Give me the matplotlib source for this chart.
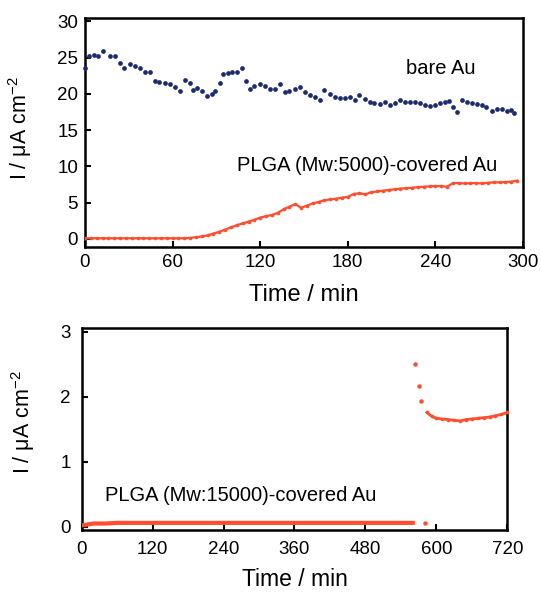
import numpy as np
import matplotlib
matplotlib.use("Agg")
import matplotlib.pyplot as plt

plt.rcParams['font.family'] = ['Liberation Sans', 'DejaVu Sans']
plt.rcParams['mathtext.fontset'] = 'custom'
plt.rcParams['mathtext.rm'] = 'Liberation Sans'
plt.rcParams['mathtext.it'] = 'Liberation Sans:italic'

# ---- top panel: bare Au vs PLGA(Mw 5000)-covered Au ----
bare_t = [0, 3, 6, 9, 12, 17, 20.5, 24, 27, 31, 34, 38, 41, 44.5, 48, 51, 55, 58,
          61.5, 65, 68.5, 72, 74, 77, 80, 83.5, 87, 89, 92.5, 94.5, 98, 101, 104,
          107.5, 110, 113, 116, 120, 123, 126.5, 130, 133.5, 137, 140, 144, 147,
          150.5, 154, 157.5, 161, 164, 168, 171, 175, 178, 181.5, 185, 188, 192,
          195, 198, 202, 205.5, 209, 212, 216, 219, 222.5, 226, 229.5, 233, 236,
          240, 243, 246.5, 249, 252, 255, 258, 261.5, 265, 268.5, 272, 275, 279,
          282, 285.5, 289, 292, 294]
bare_I = [23.5, 25.2, 25.3, 25.2, 25.9, 25.2, 25.2, 24.2, 23.6, 24.1, 23.8, 23.5,
          23.0, 23.0, 21.8, 21.7, 21.5, 21.3, 20.9, 20.4, 21.9, 21.5, 20.5, 20.8,
          20.4, 19.7, 20.0, 20.4, 21.5, 22.8, 22.9, 23.0, 23.0, 23.5, 21.8, 20.7,
          21.1, 21.4, 21.1, 20.6, 20.6, 21.4, 20.2, 20.4, 20.7, 20.9, 20.3, 19.9,
          19.6, 19.1, 20.5, 20.0, 19.6, 19.4, 19.4, 19.6, 19.2, 19.9, 19.3, 18.9,
          18.8, 18.6, 18.9, 18.4, 18.7, 19.2, 18.9, 18.9, 18.9, 18.7, 18.4, 18.3,
          18.5, 18.7, 18.9, 19.0, 18.2, 17.5, 19.2, 18.9, 18.7, 18.6, 18.4, 18.2,
          17.7, 17.9, 17.9, 17.7, 17.8, 17.4]

p5k_t = list(range(0, 300, 4))
p5k_I = [0.1, 0.1, 0.1, 0.1, 0.1, 0.1, 0.1, 0.1, 0.1, 0.1, 0.1, 0.1, 0.1, 0.1,
         0.1, 0.1, 0.1, 0.1, 0.15, 0.25, 0.35, 0.5, 0.75, 1.0, 1.3, 1.6, 1.9,
         2.15, 2.4, 2.65, 2.95, 3.15, 3.3, 3.6, 4.1, 4.45, 4.8, 4.3, 4.6, 4.9,
         5.1, 5.35, 5.45, 5.55, 5.7, 5.8, 6.2, 6.3, 6.15, 6.45, 6.55, 6.65, 6.75,
         6.85, 6.95, 7.0, 7.05, 7.15, 7.2, 7.25, 7.3, 7.3, 7.2, 7.7, 7.7, 7.65,
         7.7, 7.7, 7.65, 7.75, 7.8, 7.8, 7.85, 7.9, 8.05]

# ---- bottom panel: PLGA(Mw 15000)-covered Au ----
p15k_flat_t = list(range(0, 561, 20))
p15k_flat_I = [0.02, 0.05, 0.05, 0.06, 0.06, 0.06, 0.06, 0.06, 0.06, 0.06, 0.06,
               0.06, 0.06, 0.06, 0.06, 0.06, 0.06, 0.06, 0.06, 0.06, 0.06, 0.06,
               0.06, 0.06, 0.06, 0.06, 0.06, 0.06, 0.06]
p15k_jump_t = [564, 570, 574.5, 581]
p15k_jump_I = [2.50, 2.16, 1.94, 0.06]
p15k_tail_t = [584, 592, 600, 610, 620, 630, 640, 650, 660, 670, 680, 690, 700, 710, 720]
p15k_tail_I = [1.76, 1.70, 1.67, 1.66, 1.65, 1.64, 1.63, 1.65, 1.66, 1.67, 1.68,
               1.69, 1.71, 1.73, 1.76]

blue = "#1c2a6e"
red = "#ff4d2e"

fig = plt.figure(figsize=(5.41, 5.92), dpi=100)
ax1 = fig.add_axes([0.1571, 0.5828, 0.8096, 0.3868])
ax2 = fig.add_axes([0.151, 0.1047, 0.7867, 0.3412])

ax1.plot(bare_t, bare_I, 'o', color=blue, ms=3.4, mew=0, clip_on=False, zorder=3)
ax1.plot(p5k_t, p5k_I, '-o', color=red, lw=1.6, ms=2.6, mew=0, zorder=3)
ax1.text(244, 22.7, "bare Au", fontsize=14.5, ha='center', va='baseline')
ax1.text(104, 9.4, "PLGA (Mw:5000)-covered Au", fontsize=14.5, ha='left', va='baseline')
ax1.set_xlim(0, 300)
ax1.set_ylim(-1.1, 30.45)
ax1.set_xticks(range(0, 301, 60))
ax1.set_yticks(range(0, 31, 5))
ax1.tick_params(direction='in', length=4.5, width=1.5, labelsize=13.5, pad=5)
ax1.set_xlabel("Time / min", fontsize=17)
ax1.set_ylabel(r"I / μA cm$^{-2}$", fontsize=15.5)
ax1.xaxis.set_label_coords(0.5, -0.162)
ax1.yaxis.set_label_coords(-0.116, 0.52)

ax2.plot(p15k_flat_t, p15k_flat_I, '-', color=red, lw=3, zorder=3)
ax2.plot(p15k_jump_t, p15k_jump_I, 'o', color=red, ms=3.2, mew=0, zorder=3)
ax2.plot(p15k_tail_t, p15k_tail_I, '-o', color=red, lw=2, ms=2.6, mew=0,
         clip_on=False, zorder=3)
ax2.text(39, 0.39, "PLGA (Mw:15000)-covered Au", fontsize=14.5, ha='left', va='baseline')
ax2.set_xlim(0, 720)
ax2.set_ylim(-0.05, 3.06)
ax2.set_xticks(range(0, 721, 120))
ax2.set_yticks([0, 1, 2, 3])
ax2.tick_params(direction='in', length=4.5, width=1.5, labelsize=13.5, pad=8)
ax2.set_xlabel("Time / min", fontsize=16.5)
ax2.set_ylabel(r"I / μA cm$^{-2}$", fontsize=15.5)
ax2.xaxis.set_label_coords(0.5, -0.19)
ax2.yaxis.set_label_coords(-0.104, 0.535)

for ax in (ax1, ax2):
    for s in ax.spines.values():
        s.set_linewidth(1.8)

fig.savefig("out.png", dpi=100)
